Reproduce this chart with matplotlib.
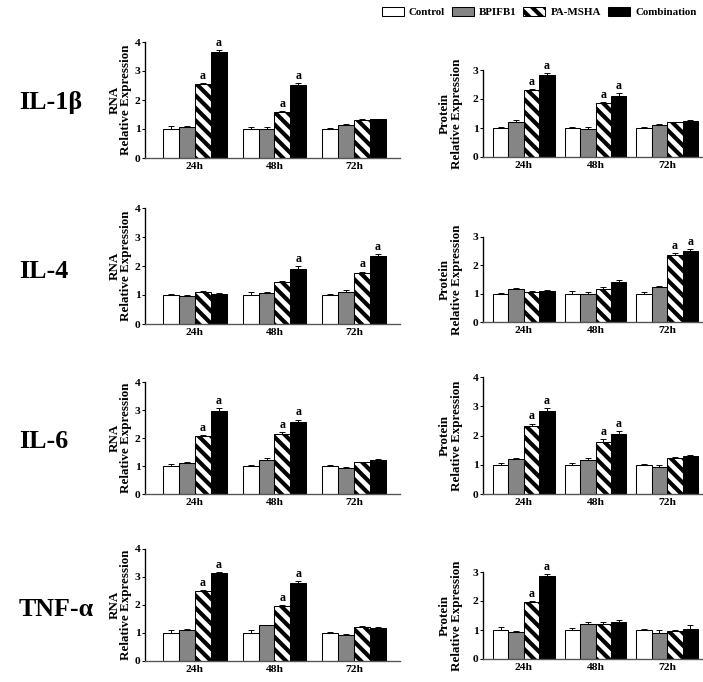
import matplotlib
matplotlib.use("Agg")
import matplotlib.pyplot as plt
from matplotlib.patches import Patch
import numpy as np

# groups and treatments
groups = ["24h", "48h", "72h"]
treatments = ["Control", "BPIFB1", "PA-MSHA", "Combination"]
cytokines = ["IL-1\u03b2", "IL-4", "IL-6", "TNF-\u03b1"]

# means: rows = time point, columns = treatment
il1b_rna = [[1.00, 1.08, 2.55, 3.65], [1.00, 1.00, 1.60, 2.52], [1.00, 1.14, 1.30, 1.33]]
il1b_rna_err = [[0.12, 0.03, 0.03, 0.08], [0.06, 0.08, 0.03, 0.06], [0.04, 0.04, 0.03, 0.02]]
il1b_prot = [[1.00, 1.19, 2.31, 2.83], [1.00, 0.95, 1.85, 2.12], [1.00, 1.10, 1.19, 1.25]]
il1b_prot_err = [[0.03, 0.08, 0.04, 0.07], [0.04, 0.10, 0.05, 0.08], [0.05, 0.04, 0.03, 0.03]]

il4_rna = [[1.00, 0.97, 1.09, 1.05], [1.00, 1.07, 1.45, 1.90], [1.00, 1.12, 1.77, 2.35]]
il4_rna_err = [[0.05, 0.03, 0.04, 0.03], [0.12, 0.03, 0.05, 0.10], [0.04, 0.04, 0.04, 0.05]]
il4_prot = [[1.00, 1.15, 1.05, 1.10], [1.00, 0.98, 1.15, 1.42], [1.00, 1.24, 2.38, 2.50]]
il4_prot_err = [[0.04, 0.04, 0.04, 0.04], [0.10, 0.07, 0.08, 0.05], [0.05, 0.04, 0.05, 0.08]]

il6_rna = [[1.00, 1.10, 2.07, 2.95], [1.00, 1.20, 2.15, 2.58], [1.00, 0.93, 1.13, 1.23]]
il6_rna_err = [[0.07, 0.04, 0.04, 0.12], [0.04, 0.07, 0.06, 0.08], [0.04, 0.04, 0.03, 0.03]]
il6_prot = [[1.00, 1.20, 2.33, 2.84], [1.00, 1.17, 1.78, 2.05], [1.00, 0.93, 1.22, 1.29]]
il6_prot_err = [[0.05, 0.04, 0.08, 0.10], [0.05, 0.06, 0.10, 0.10], [0.04, 0.05, 0.04, 0.06]]

tnf_rna = [[1.00, 1.10, 2.50, 3.15], [1.00, 1.27, 1.97, 2.78], [1.00, 0.94, 1.22, 1.18]]
tnf_rna_err = [[0.10, 0.04, 0.03, 0.04], [0.10, 0.03, 0.03, 0.07], [0.04, 0.03, 0.04, 0.03]]
tnf_prot = [[1.00, 0.93, 1.98, 2.87], [1.00, 1.20, 1.20, 1.28], [1.00, 0.90, 0.95, 1.05]]
tnf_prot_err = [[0.10, 0.05, 0.03, 0.05], [0.06, 0.08, 0.08, 0.05], [0.04, 0.10, 0.05, 0.12]]

# significance marks "a": (time point, treatment)
il1b_rna_sig = [(0, 2), (0, 3), (1, 2), (1, 3)]
il1b_prot_sig = [(0, 2), (0, 3), (1, 2), (1, 3)]
il4_rna_sig = [(1, 3), (2, 2), (2, 3)]
il4_prot_sig = [(2, 2), (2, 3)]
il6_rna_sig = [(0, 2), (0, 3), (1, 2), (1, 3)]
il6_prot_sig = [(0, 2), (0, 3), (1, 2), (1, 3)]
tnf_rna_sig = [(0, 2), (0, 3), (1, 2), (1, 3)]
tnf_prot_sig = [(0, 2), (0, 3)]

rna_ymax = [4, 4, 4, 4]
prot_ymax = [3, 3, 4, 3]

# styling
DPI = 75
W, H = 703, 682
plt.rcParams["font.family"] = ["Liberation Serif", "DejaVu Serif"]
plt.rcParams["font.weight"] = "bold"
plt.rcParams["hatch.linewidth"] = 4.0

faces = ["white", "#858585", "white", "black"]
hatches = [None, None, "\\\\", None]

fig = plt.figure(figsize=(W / DPI, H / DPI), dpi=DPI)


def px_axes(x0, x1, ybot, ytop):
    return fig.add_axes([x0 / W, (H - ybot) / H, (x1 - x0) / W, (ybot - ytop) / H])


def draw_panel(ax, means, errs, sigs, ymax, width, xlim, ylabel, label_x):
    means = np.array(means)
    errs = np.array(errs)
    x = np.arange(len(groups))
    offsets = (np.arange(4) - 1.5) * width
    for j in range(4):
        ax.bar(x + offsets[j], means[:, j], width, color=faces[j], edgecolor="black",
               linewidth=1.0, hatch=hatches[j], zorder=2)
        ax.errorbar(x + offsets[j], means[:, j], yerr=[np.zeros(3), errs[:, j]],
                    fmt="none", ecolor="black", elinewidth=0.9, capsize=2.5,
                    capthick=0.9, zorder=3)
    for g, j in sigs:
        ax.text(x[g] + offsets[j], means[g, j] + errs[g, j] + 0.04, "a",
                ha="center", va="bottom", fontsize=11.5, fontweight="bold")
    ax.set_xlim(*xlim)
    ax.set_ylim(0, ymax)
    ax.set_yticks(range(ymax + 1))
    ax.set_xticks(x)
    ax.set_xticklabels(groups)
    ax.tick_params(axis="x", length=0, pad=4, labelsize=11)
    ax.tick_params(axis="y", length=3, width=1, pad=1.5, labelsize=11)
    for s in ["top", "right"]:
        ax.spines[s].set_visible(False)
    ax.spines["left"].set_linewidth(1.3)
    ax.spines["bottom"].set_linewidth(1.3)
    ax.spines["bottom"].set_color("#555555")
    ax.set_ylabel(ylabel, fontsize=12.5, fontweight="bold", linespacing=1.0)
    ax.yaxis.set_label_coords(label_x, 0.5)


rna_data = [(il1b_rna, il1b_rna_err, il1b_rna_sig), (il4_rna, il4_rna_err, il4_rna_sig),
            (il6_rna, il6_rna_err, il6_rna_sig), (tnf_rna, tnf_rna_err, tnf_rna_sig)]
prot_data = [(il1b_prot, il1b_prot_err, il1b_prot_sig), (il4_prot, il4_prot_err, il4_prot_sig),
             (il6_prot, il6_prot_err, il6_prot_sig), (tnf_prot, tnf_prot_err, tnf_prot_sig)]

# pixel frames: (bottom, top) for left and right columns
left_rows = [(158, 42), (324, 208), (494, 382), (661, 549)]
right_rows = [(157, 70), (322, 237), (494, 377), (659, 572)]
label_y = [102, 272, 441, 610]

for i in range(4):
    ax = px_axes(145, 400, *left_rows[i])
    m, e, s = rna_data[i]
    draw_panel(ax, m, e, s, rna_ymax[i], 0.2, (-0.625, 2.575),
               "RNA\nRelative Expression", -0.05)
    ax2 = px_axes(483, 703, *right_rows[i])
    m, e, s = prot_data[i]
    draw_panel(ax2, m, e, s, prot_ymax[i], 0.215, (-0.57, 2.5),
               "Protein\nRelative Expression", -0.09)
    fig.text(19 / W, (H - label_y[i]) / H, cytokines[i], ha="left", va="center",
             fontsize=25, fontweight="bold")

handles = [Patch(facecolor=faces[j], edgecolor="black", hatch=hatches[j], linewidth=1.0)
           for j in range(4)]
fig.legend(handles, treatments, loc="upper right", bbox_to_anchor=(1.0, 1.0), ncol=4,
           frameon=False, fontsize=10.5, handlelength=2.0, handleheight=0.9,
           handletextpad=0.5, columnspacing=0.6, borderaxespad=0.3, borderpad=0.3)

fig.savefig("out.png", dpi=DPI)
